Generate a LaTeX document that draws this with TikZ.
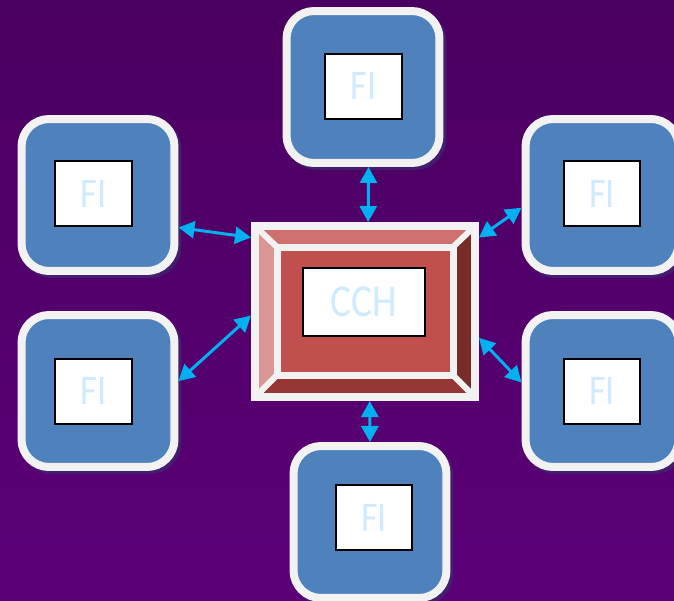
\documentclass[tikz,border=0pt]{standalone}
\usepackage{fontspec}
\setmainfont{Carlito}
\newfontfamily\labelfont[FakeStretch=0.86]{Carlito}
\usepackage{tikz}
\usetikzlibrary{arrows.meta,shapes}
\definecolor{bgtop}{RGB}{74,0,96}
\definecolor{bgbottom}{RGB}{92,0,120}
\definecolor{fiblue}{HTML}{4F81BD}
\definecolor{frame}{HTML}{F2F2F2}
\definecolor{labeltext}{HTML}{CFEBFF}
\definecolor{linkcyan}{HTML}{00B0F0}
\definecolor{boxshadow}{RGB}{66,30,110}
\definecolor{cchshadow}{RGB}{100,20,60}
\definecolor{cchred}{HTML}{C0504D}
\definecolor{bevtop}{HTML}{CD706E}
\definecolor{bevleft}{HTML}{D99694}
\definecolor{bevright}{HTML}{772C2A}
\definecolor{bevbottom}{HTML}{963735}
\tikzstyle{fi box}=[rectangle, rounded corners=0.55cm, draw=frame, fill=fiblue, line width=0.16cm, minimum width=3.06cm, minimum height=3.04cm, preaction={fill=boxshadow, draw=boxshadow, transform canvas={xshift=0.06cm, yshift=-0.06cm}}]
\tikzstyle{fi label}=[rectangle, draw=black, fill=white, line width=0.04cm, minimum width=1.54cm, minimum height=1.3cm, inner sep=0pt, text=labeltext, font=\labelfont\fontsize{24}{24}\selectfont]
\tikzstyle{cch label}=[rectangle, draw=black, fill=white, line width=0.04cm, minimum width=2.44cm, minimum height=1.36cm, inner sep=0pt, text=labeltext, font=\labelfont\fontsize{26}{26}\selectfont]
\tikzstyle{cch frame}=[rectangle, draw=frame, line width=0.16cm, minimum width=4.4cm, minimum height=3.42cm, inner sep=0pt]
\tikzstyle{bevel line}=[draw=frame, line width=0.12cm]
\tikzstyle{link}=[draw=linkcyan, line width=0.06cm, {Triangle[length=0.32cm,width=0.34cm]}-{Triangle[length=0.32cm,width=0.34cm]}]

\begin{document}
\begin{tikzpicture}[x=0.02cm, y=-0.02cm]
	\useasboundingbox (0,0) rectangle (674,600);
	\shade[top color=bgtop, bottom color=bgbottom] (0,0) rectangle (674,600);

	% First we draw the FI boxes
	\foreach \pos/\lpos/\name in {
		{(363,87)/(363.5,86)/fiT},
		{(98,195)/(93.5,193.5)/fiLU},
		{(602,195)/(602,193.5)/fiRU},
		{(98,391)/(93.5,391)/fiLL},
		{(602,391)/(602,391)/fiRL},
		{(370,522)/(374,517.5)/fiB}}
	{
		\node[fi box] (\name) at \pos {};
		\node[fi label] (\name label) at \lpos {FI\hspace{0.2cm}};
	}

	% The CCH box with its bevel
	\fill[cchshadow] (258,229) rectangle (479,401);
	\fill[bevtop] (255,226) -- (475,226) -- (453,247) -- (277,247) -- cycle;
	\fill[bevright] (475,226) -- (475,397) -- (453,375) -- (453,247) -- cycle;
	\fill[bevbottom] (475,397) -- (255,397) -- (277,375) -- (453,375) -- cycle;
	\fill[bevleft] (255,397) -- (255,226) -- (277,247) -- (277,375) -- cycle;
	\fill[cchred] (277,247) rectangle (453,375);
	\path[bevel line] (255,226) -- (277,247) (475,226) -- (453,247)
		(475,397) -- (453,375) (255,397) -- (277,375);
	\path[draw=frame, line width=0.14cm] (277,247) rectangle (453,375);
	\node[cch frame] (cch) at (365,311.5) {};
	\node[cch label] (cch label) at (364,302) {CCH\hspace{0.2cm}};

	% Connect the FI boxes with the CCH
	\foreach \source/\dest in {
		fiT.-86/cch.88,
		fiLU.-22/cch.147,
		fiLL.7/cch.182,
		fiRU.189/cch.33,
		fiRL.174/cch.-13,
		fiB.north/cch.-87}
	\path[link] (\source) -- (\dest);

\end{tikzpicture}
\end{document}
